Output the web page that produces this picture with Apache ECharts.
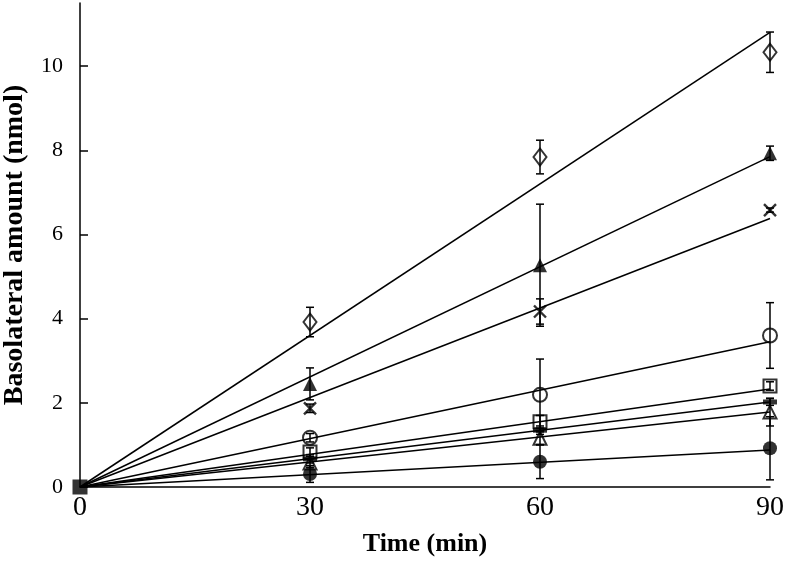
<!DOCTYPE html>
<html><head><meta charset="utf-8">
<script src="https://cdn.jsdelivr.net/npm/echarts@6/dist/echarts.min.js"></script>
<style>html,body{margin:0;padding:0;background:#fff}#c{width:786px;height:563px}</style>
</head><body><div id="c"></div>
<script>
const times = [0, 30, 60, 90];
const yTicks = [0, 2, 4, 6, 8, 10];
const xTicks = [0, 30, 60, 90];
// measured values (nmol)
const diamondOpen   = [0, 3.92, 7.84, 10.33];
const triFilled     = [0, 2.45, 5.27, 7.93];
const cross         = [0, 1.87, 4.17, 6.58];
const circleOpen    = [0, 1.17, 2.19, 3.60];
const squareOpen    = [0, 0.83, 1.55, 2.40];
const dashFilled    = [0, 0.67, 1.35, 2.02];
const triOpen       = [0, 0.57, 1.16, 1.78];
const circleFilled  = [0, 0.31, 0.60, 0.92];
// error (± SD)
const diamondErr = [0, 0.35, 0.40, 0.48];
const triFErr    = [0, 0.38, 1.45, 0.17];
const crossErr   = [0, 0.10, 0.30, 0.05];
const circOErr   = [0, 0.10, 0.85, 0.78];
const sqOErr     = [0, 0.10, 0.15, 0.10];
const dashErr    = [0, 0.10, 0.10, 0.08];
const triOErr    = [0, 0.10, 0.15, 0.33];
const circFErr   = [0, 0.20, 0.40, 0.75];
// fitted line values at 90 min (lines through origin)
const fitEnd = [10.80, 7.85, 6.38, 3.45, 2.33, 2.02, 1.78, 0.88];

const groups = [
  {v: diamondOpen, e: diamondErr, sym: 'diamond', size: [13, 17], fill: false},
  {v: triFilled, e: triFErr, sym: 'triangle', size: 14, fill: true},
  {v: cross, e: crossErr, sym: 'path://M0,0L10,10M10,0L0,10', size: 12, fill: false, cross: true},
  {v: circleOpen, e: circOErr, sym: 'circle', size: 14, fill: false},
  {v: squareOpen, e: sqOErr, sym: 'rect', size: 13, fill: false},
  {v: dashFilled, e: dashErr, sym: 'rect', size: [14, 5], fill: true, origin: true},
  {v: triOpen, e: triOErr, sym: 'triangle', size: 13, fill: false},
  {v: circleFilled, e: circFErr, sym: 'circle', size: 14, fill: true}
];

const series = [];
groups.forEach((g, gi) => {
  series.push({
    type: 'line', silent: true, symbol: 'none', z: 2,
    lineStyle: {color: '#000', width: 1.5},
    data: [[times[0], 0], [times[3], fitEnd[gi]]]
  });
  series.push({
    type: 'custom', z: 3, silent: true,
    data: times.map((t, i) => [t, g.v[i], g.e[i]]).filter(d => d[2] > 0),
    renderItem: function (params, api) {
      const x = api.value(0), y = api.value(1), e = api.value(2);
      const top = api.coord([x, y + e]), bot = api.coord([x, y - e]);
      const hw = 4;
      const st = {stroke: '#000', lineWidth: 1.5};
      return {type: 'group', children: [
        {type: 'line', shape: {x1: top[0], y1: top[1], x2: bot[0], y2: bot[1]}, style: st},
        {type: 'line', shape: {x1: top[0] - hw, y1: top[1], x2: top[0] + hw, y2: top[1]}, style: st},
        {type: 'line', shape: {x1: bot[0] - hw, y1: bot[1], x2: bot[0] + hw, y2: bot[1]}, style: st}
      ]};
    }
  });
  series.push({
    type: 'scatter', z: 4, silent: true,
    symbol: g.sym, symbolSize: g.size,
    itemStyle: g.cross ? {color: 'rgba(0,0,0,0)', borderColor: '#000', borderWidth: 2.4}
      : g.fill ? {color: '#000'} : {color: 'rgba(0,0,0,0)', borderColor: '#000', borderWidth: 2},
    data: times.map((t, i) => {
      if (i === 0) {
        if (g.origin) return {value: [t, g.v[i]], symbol: 'rect', symbolSize: 15};
        return null;
      }
      return [t, g.v[i]];
    }).filter(d => d !== null)
  });
});

const chart = echarts.init(document.getElementById('c'));
chart.setOption({
  animation: false,
  backgroundColor: '#fff',
  grid: {left: 80, right: 16, top: 3, bottom: 76, containLabel: false, outerBoundsMode: 'none'},
  xAxis: {
    type: 'value', min: 0, max: 90, interval: 30,
    name: 'Time (min)', nameLocation: 'middle', nameGap: 44,
    nameTextStyle: {fontFamily: 'Liberation Serif', fontWeight: 'bold', fontSize: 26, color: '#000'},
    axisLine: {lineStyle: {color: '#000', width: 1.5}},
    axisTick: {show: false},
    splitLine: {show: false},
    axisLabel: {customValues: xTicks, fontFamily: 'Liberation Serif', fontSize: 28, color: '#000', margin: 7}
  },
  yAxis: {
    type: 'value', min: 0, max: 11.5,
    name: 'Basolateral amount (nmol)', nameLocation: 'middle', nameGap: 51,
    nameTextStyle: {fontFamily: 'Liberation Serif', fontWeight: 'bold', fontSize: 28, color: '#000'},
    axisLine: {lineStyle: {color: '#000', width: 1.5}},
    axisTick: {show: true, inside: true, length: 8, customValues: yTicks, lineStyle: {color: '#000', width: 1.5}},
    splitLine: {show: false},
    axisLabel: {customValues: yTicks, fontFamily: 'Liberation Serif', fontSize: 22, color: '#000', margin: 17}
  },
  series: series
});
</script></body></html>
